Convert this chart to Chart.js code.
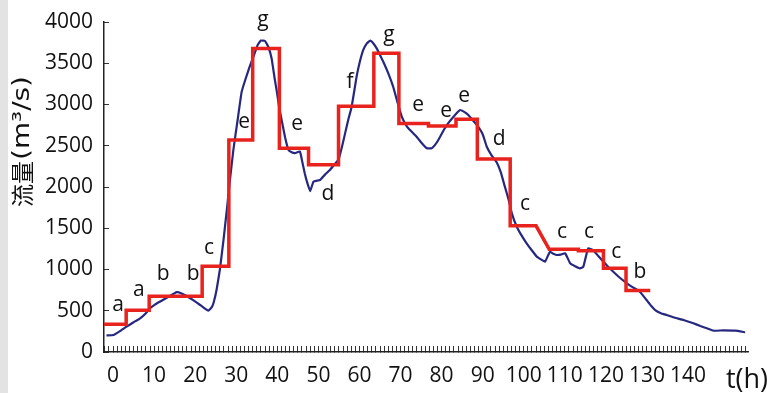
<!DOCTYPE html>
<html>
<head>
<meta charset="utf-8">
<script src="https://cdn.jsdelivr.net/npm/chart.js@4/dist/chart.umd.min.js"></script>
<style>
  html, body { margin: 0; padding: 0; }
  body {
    width: 767px; height: 393px; overflow: hidden;
    background: linear-gradient(to right, #e3e3e3 0, #e3e3e3 8px, #ffffff 8px);
  }
  canvas { display: block; }
</style>
</head>
<body>
<canvas id="flowChart" width="767" height="393"></canvas>
<script>
// Measured discharge hydrograph (time in hours, flow in m3/s)
const flowHours = [
  -1.6, 0.1, 1.6, 3.3, 5.0, 6.6, 8.0, 9.0, 10.2, 11.4, 13.5, 15.5, 16.7, 17.9, 19.6, 21.2,
  22.3, 23.2, 24.0, 24.5, 25.2, 26.0, 26.9, 27.7, 28.5, 29.3, 30.3, 31.3, 32.2, 33.2, 34.2,
  35.2, 36.0, 37.0, 37.8, 38.6, 39.4, 39.9, 40.5, 41.1, 41.9, 42.7, 43.5, 44.3, 45.5, 46.1,
  46.7, 47.3, 48.0, 48.8, 50.4, 51.6, 52.8, 54.0, 54.9, 55.7, 56.5, 57.3, 58.1, 59.3, 60.1,
  60.9, 61.8, 62.6, 63.4, 64.2, 65.0, 65.8, 67.0, 68.2, 69.3, 70.3, 71.1, 71.9, 73.9, 75.2,
  76.4, 77.6, 78.4, 79.2, 80.3, 81.3, 82.9, 84.5, 85.5, 86.5, 87.6, 88.6, 90.0, 91.0, 92.2,
  93.4, 94.4, 95.4, 96.3, 97.1, 98.3, 99.5, 100.7, 102.0, 103.2, 104.3, 105.2, 106.0, 106.4,
  107.2, 108.0, 109.0, 110.1, 111.3, 112.5, 113.7, 114.5, 115.1, 115.7, 116.9, 118.2, 119.4,
  120.6, 121.8, 123.4, 125.1, 126.7, 128.3, 129.9, 131.0, 132.0, 133.4, 134.8, 136.8, 138.9,
  141.3, 143.0, 144.6, 146.2, 148.5, 151.5, 153.9
];
const flowValues = [
  200, 206, 250, 307, 360, 408, 470, 530, 575, 610, 670, 725, 710, 679, 625, 570,
  530, 500, 540, 600, 752, 994, 1358, 1721, 2100, 2450, 2800, 3150, 3300, 3450, 3580,
  3720, 3775, 3770, 3700, 3560, 3300, 3150, 2950, 2800, 2600, 2450, 2420, 2410, 2430, 2300,
  2160, 2050, 1950, 2064, 2085, 2150, 2206, 2280, 2330, 2480, 2650, 2820, 2973, 3337, 3520,
  3660, 3740, 3775, 3740, 3680, 3600, 3519, 3380, 3216, 3020, 2852, 2770, 2711, 2610, 2530,
  2469, 2469, 2510, 2570, 2670, 2752, 2852, 2933, 2910, 2873, 2810, 2752, 2640, 2488, 2380,
  2300, 2180, 2004, 1850, 1681, 1519, 1410, 1317, 1230, 1155, 1120, 1095, 1180, 1216,
  1190, 1176, 1180, 1196, 1075, 1040, 1014, 1034, 1150, 1257, 1236, 1160, 1095,
  1030, 973, 900, 833, 780, 731, 630, 560, 509, 470, 448, 415, 388,
  348, 315, 287, 258, 262, 258, 239
];

// Graded flow periods: start hour, end hour, level and grade letter
const stepStart = [-2.2, 3.2, 8.8, 15.3, 21.7, 28.2, 34.0, 40.5, 47.6, 54.9, 63.5, 69.6, 76.8, 83.5, 88.7, 96.7, 106.2, 113.3, 119.4, 124.9];
const stepEnd   = [3.2, 8.8, 15.3, 21.7, 28.2, 34.0, 40.5, 47.6, 54.9, 63.5, 69.6, 76.8, 83.5, 88.7, 96.7, 103.0, 113.3, 119.4, 124.9, 130.8];
const stepLevel = [335, 505, 675, 675, 1040, 2570, 3680, 2470, 2270, 2980, 3620, 2770, 2740, 2820, 2340, 1530, 1245, 1228, 1015, 745];
const stepGrade = ['a', 'a', 'b', 'b', 'c', 'e', 'g', 'e', 'd', 'f', 'g', 'e', 'e', 'e', 'd', 'c', 'c', 'c', 'c', 'b'];

// Where each grade letter sits (hour, flow)
const gradeX = [1.2, 6.3, 12.2, 19.5, 23.4, 31.9, 36.5, 44.8, 52.3, 57.7, 67.2, 74.3, 81.1, 85.5, 94.0, 100.3, 109.3, 115.9, 122.5, 128.3];
const gradeY = [570, 752, 970, 970, 1261, 2788, 3988, 2764, 1939, 3297, 3818, 2994, 2921, 3103, 2606, 1794, 1455, 1455, 1212, 994];

// Axis settings
const xRange = [-2.2, 154.6];
const xLabelValues = [0, 10, 20, 30, 40, 50, 60, 70, 80, 90, 100, 110, 120, 130, 140];
const yRange = [0, 4000];
const yStep = 500;

const flowPoints = flowHours.map((h, i) => ({ x: h, y: flowValues[i] }));
const stepPoints = [];
stepLevel.forEach((lv, i) => {
  stepPoints.push({ x: stepStart[i], y: lv });
  stepPoints.push({ x: stepEnd[i], y: lv });
});

const tickFont = { family: '"Open Sans", sans-serif', size: 21 };

const overlay = {
  id: 'overlay',
  afterDatasetsDraw(chart) {
    const { ctx } = chart;
    const xs = chart.scales.x, ys = chart.scales.y;
    ctx.save();
    // grade letters
    ctx.fillStyle = '#111';
    ctx.font = '21px "Open Sans", sans-serif';
    ctx.textAlign = 'center';
    ctx.textBaseline = 'alphabetic';
    stepGrade.forEach((g, i) => {
      const px = xs.getPixelForValue(gradeX[i]);
      const py = ys.getPixelForValue(gradeY[i]);
      const m = ctx.measureText(g);
      ctx.fillText(g, px, py + (m.actualBoundingBoxAscent - m.actualBoundingBoxDescent) / 2);
    });

    // time axis caption
    ctx.font = '27px "Open Sans", sans-serif';
    ctx.textAlign = 'right';
    ctx.fillText('t(h)', 768, 388);

    // flow axis caption (rotated)
    ctx.translate(22, 207);
    ctx.rotate(-Math.PI / 2);
    ctx.textAlign = 'left';
    ctx.textBaseline = 'middle';
    ctx.font = '23px "Noto Sans CJK SC"';
    ctx.fillText('流量', 0, 0);
    const head = ctx.measureText('流量').width;
    ctx.font = '23px "DejaVu Sans"';
    const unit = '(m³/s)';
    const uw = ctx.measureText(unit).width;
    ctx.translate(head + 1, 0);
    ctx.scale(84 / uw, 1);
    ctx.fillText(unit, 0, 1);
    ctx.restore();
  }
};

new Chart(document.getElementById('flowChart'), {
  type: 'line',
  data: {
    datasets: [
      {
        label: 'graded',
        data: stepPoints,
        borderColor: '#e8221d',
        borderWidth: 3.5,
        borderJoinStyle: 'miter',
        pointRadius: 0,
        tension: 0,
        fill: false
      },
      {
        label: 'flow',
        data: flowPoints,
        borderColor: '#26287f',
        borderWidth: 2.2,
        pointRadius: 0,
        tension: 0.1,
        fill: false
      }
    ]
  },
  options: {
    responsive: false,
    animation: false,
    devicePixelRatio: 1,
    layout: { padding: { left: 0, top: 22, right: 19, bottom: 0 } },
    plugins: { legend: { display: false }, tooltip: { enabled: false } },
    scales: {
      x: {
        type: 'linear',
        min: xRange[0],
        max: xRange[1],
        afterFit(s) { s.height = 41; s.paddingLeft = 0; s.paddingRight = 0; },
        border: { display: true, color: '#222', width: 1.5 },
        grid: { display: true, drawOnChartArea: false, drawTicks: true, tickLength: -6, color: '#333', lineWidth: 1 },
        ticks: {
          stepSize: 1,
          includeBounds: false,
          autoSkip: false,
          maxRotation: 0,
          minRotation: 0,
          padding: 17,
          color: '#111',
          font: tickFont,
          callback: (v) => xLabelValues.includes(v) ? String(v) : ''
        }
      },
      y: {
        type: 'linear',
        min: yRange[0],
        max: yRange[1],
        afterFit(s) { s.width = 104; s.paddingTop = 0; s.paddingBottom = 0; },
        border: { display: true, color: '#222', width: 1.5 },
        grid: { display: true, drawOnChartArea: false, drawTicks: true, tickLength: -5, color: '#333', lineWidth: 1 },
        ticks: {
          stepSize: yStep,
          padding: 16,
          color: '#111',
          font: tickFont,
          callback: (v) => String(v)
        }
      }
    }
  },
  plugins: [overlay]
});
</script>
</body>
</html>
